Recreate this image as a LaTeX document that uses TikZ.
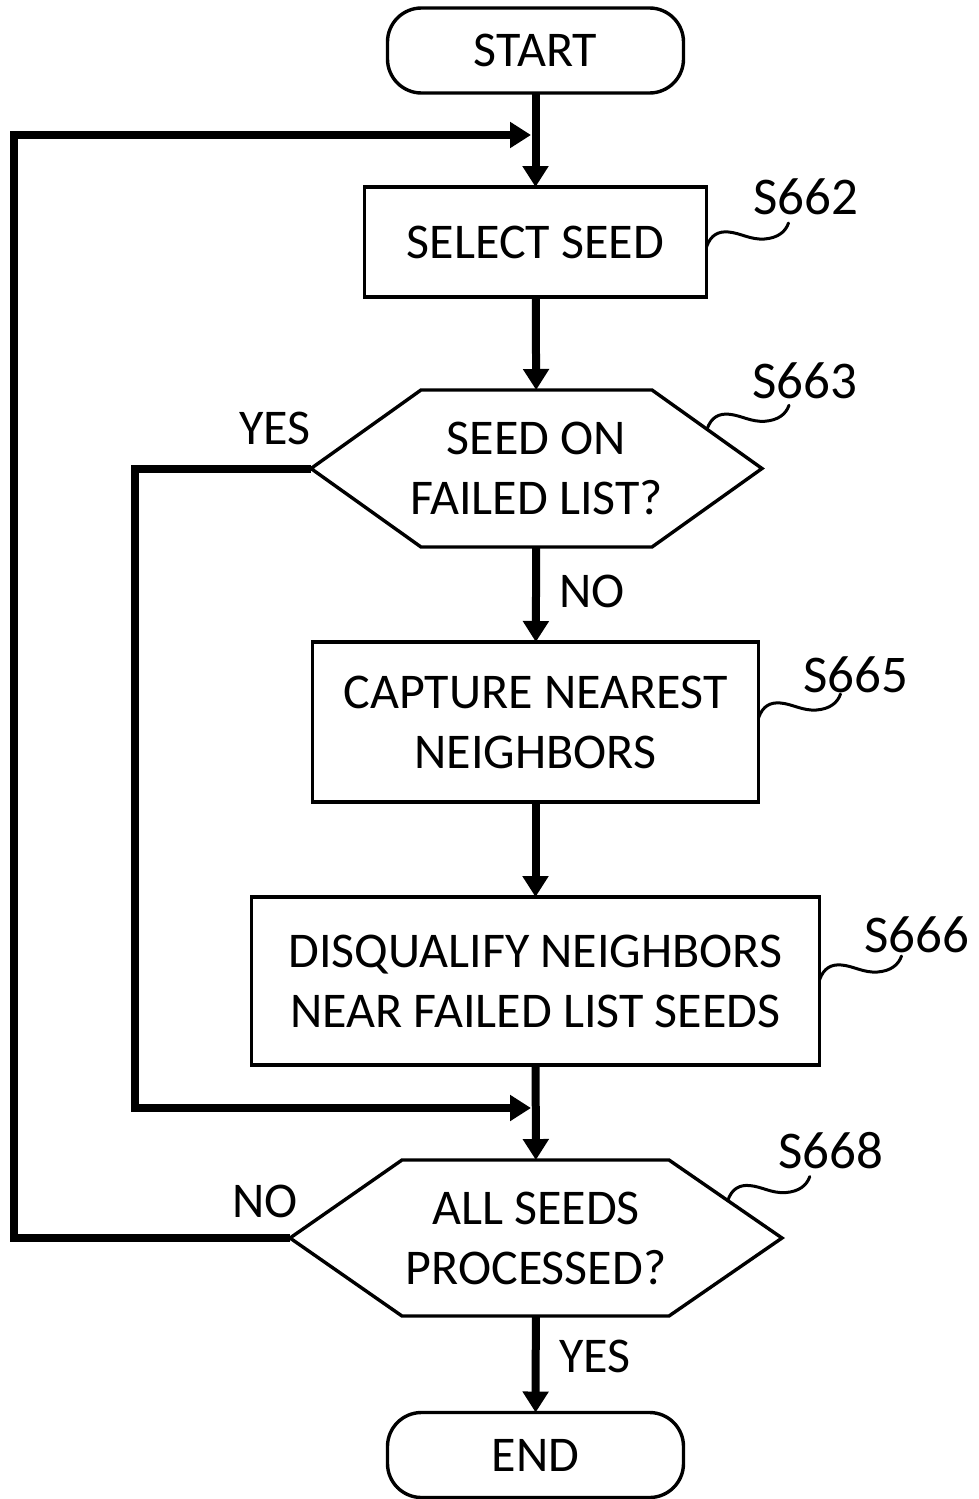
\documentclass[tikz,border=0pt]{standalone}
\usepackage{fontspec}
\setmainfont{Carlito}
\usetikzlibrary{arrows.meta,calc}

\begin{document}
\begin{tikzpicture}[x=0.5pt,y=-0.5pt,
  every node/.style={inner sep=0pt,outer sep=0pt,font=\fontsize{25}{30}\selectfont,align=center},
  stepbox/.style={draw,line width=1.7pt,rectangle},
  terminal/.style={draw,line width=1.7pt,rectangle,rounded corners=17pt,minimum width=148pt,minimum height=42.5pt},
  hexbound/.style={rectangle,draw=none},
  hexline/.style={line width=1.7pt,line join=miter},
  flow/.style={line width=4pt,-{Triangle[length=10.5pt,width=12.5pt]}},
  reflabel/.style={font=\fontsize{26.5}{30}\selectfont},
  branch/.style={font=\fontsize{25}{30}\selectfont},
  squiggle/.pic={\draw[line width=1.5pt,line cap=round]
     (0,0) .. controls (4,-12) and (12,-16) .. (22,-15)
           .. controls (34,-14) and (44,-7) .. (58,-8)
           .. controls (71,-9) and (79,-15) .. (82,-24);}
]
\fill[white] (0,0) rectangle (979,1499);
\useasboundingbox (0,0) rectangle (979,1499);

% process steps
\node[terminal] (start) at (535.5,50.5) {START};
\node[stepbox,minimum width=171pt,minimum height=55pt] (b1) at (535.5,242) {SELECT SEED};
\node[hexbound,minimum width=225.5pt,minimum height=78.5pt] (d1) at (536.5,468.5) {SEED ON\\FAILED LIST?};
\node[stepbox,minimum width=223pt,minimum height=80pt] (b2) at (535.5,722) {CAPTURE NEAREST\\NEIGHBORS};
\node[stepbox,minimum width=284pt,minimum height=84pt] (b3) at (535.5,981) {DISQUALIFY NEIGHBORS\\NEAR FAILED LIST SEEDS};
\node[hexbound,minimum width=246pt,minimum height=78pt] (d2) at (536,1238) {ALL SEEDS\\PROCESSED?};
\node[terminal] (end) at (535.5,1455) {END};

% hexagonal decision outlines
\draw[hexline] (d1.west) -- ($(d1.north west)+(110,0)$) -- ($(d1.north east)+(-110,0)$)
  -- (d1.east) -- ($(d1.south east)+(-110,0)$) -- ($(d1.south west)+(110,0)$) -- cycle;
\draw[hexline] (d2.west) -- ($(d2.north west)+(112,0)$) -- ($(d2.north east)+(-113,0)$)
  -- (d2.east) -- ($(d2.south east)+(-113,0)$) -- ($(d2.south west)+(112,0)$) -- cycle;

% junction points and loop corners
\coordinate (j1) at (531,135);
\coordinate (j2) at (531,1108);
\coordinate (yescorner) at (135,1108);
\coordinate (nocorner) at (14,135);

% main flow
\draw[flow] (start) -- (b1);
\draw[flow] (b1) -- (d1);
\draw[flow] (d1) -- (b2);
\draw[flow] (b2) -- (b3);
\draw[flow] (b3) -- (d2);
\draw[flow] (d2) -- (end);

% branches
\draw[flow] (d1.west) -| (yescorner) -- (j2);
\draw[flow] (d2.west) -| (nocorner) -- (j1);

% branch labels
\node[branch] (yes1) at (275,428) {YES};
\node[branch] (no1) at (592,591) {NO};
\node[branch] (no2) at (265,1201) {NO};
\node[branch] (yes2) at (595,1356) {YES};

% step reference numerals
\node[reflabel] (r662) at (806,197) {S662};
\node[reflabel] (r663) at (805,381) {S663};
\node[reflabel] (r665) at (856,675) {S665};
\node[reflabel] (r666) at (917,935) {S666};
\node[reflabel] (r668) at (831,1151) {S668};

\pic at ($(b1.east)+(0,5)$) {squiggle};
\pic at ($($(d1.north east)+(-110,0)$)!0.5!(d1.east)$) {squiggle};
\pic at ($(b2.east)+(0,-4)$) {squiggle};
\pic at ($(b3.east)+(0,-1)$) {squiggle};
\pic at ($($(d2.north east)+(-113,0)$)!0.52!(d2.east)$) {squiggle};
\end{tikzpicture}
\end{document}
